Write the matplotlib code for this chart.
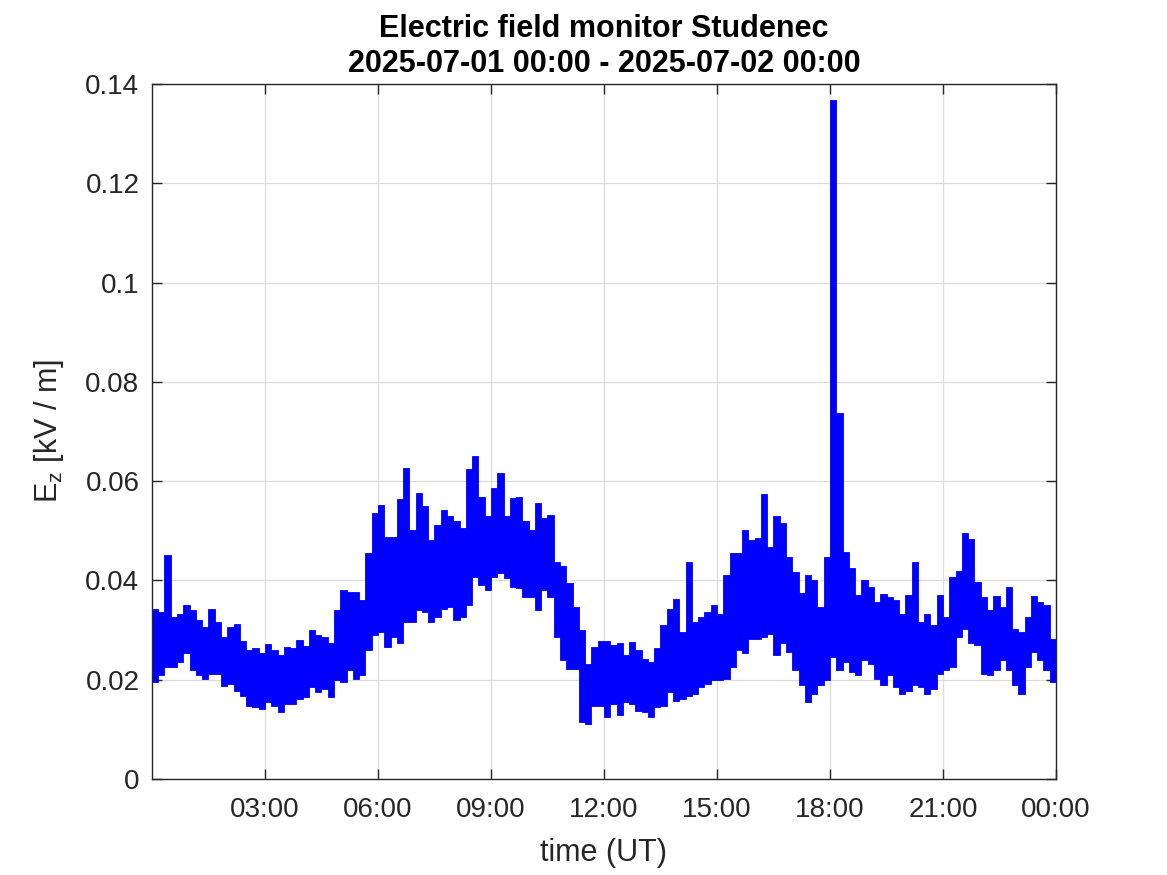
import numpy as np
import matplotlib
matplotlib.use("Agg")
import matplotlib.pyplot as plt

# ---- data, values in 1e-3 kV/m, 10-minute bins ----
bin_minutes = 10
ez_high = [
    34.3, 33.7, 45.1, 32.7, 33.3, 35.0, 34.0, 32.0, 30.6, 34.2, 31.7, 28.6,
    30.6, 31.3, 27.9, 25.9, 26.3, 25.3, 27.1, 25.9, 24.9, 26.6, 26.3, 28.1,
    26.7, 30.0, 29.0, 28.6, 27.3, 34.0, 38.1, 37.7, 37.7, 36.0, 45.5, 53.5,
    55.2, 48.8, 48.8, 56.4, 62.6, 50.2, 57.6, 54.9, 48.1, 51.2, 54.2, 52.9,
    51.9, 50.5, 62.4, 65.1, 56.9, 52.9, 58.6, 61.6, 52.9, 56.6, 56.9, 51.9,
    50.2, 55.6, 52.6, 53.2, 43.8, 42.9, 39.4, 34.7, 30.0, 23.2, 26.6, 27.9,
    27.9, 26.9, 27.3, 24.9, 27.6, 25.9, 24.2, 23.6, 26.3, 31.0, 34.2, 36.2,
    29.6, 43.7, 31.7, 32.7, 33.7, 35.0, 33.3, 41.0, 45.5, 45.5, 50.2, 48.1,
    48.5, 57.4, 46.8, 52.9, 51.5, 44.8, 41.8, 37.4, 41.0, 40.1, 34.7, 44.8,
    136.8, 73.7, 45.8, 42.5, 37.1, 40.1, 38.7, 35.6, 37.3, 36.7, 36.0, 33.3,
    37.0, 43.7, 31.7, 33.3, 31.0, 37.1, 32.7, 40.7, 42.0, 49.5, 48.3, 39.7,
    36.7, 34.0, 36.8, 34.7, 38.7, 30.3, 29.6, 32.7, 36.8, 35.6, 35.0, 28.3,
]
ez_low = [
    19.5, 20.9, 22.6, 22.6, 23.6, 25.3, 21.9, 20.9, 20.2, 21.2, 21.2, 18.7,
    19.2, 17.8, 16.8, 14.8, 14.5, 14.1, 15.5, 14.8, 13.5, 15.2, 15.2, 16.2,
    16.5, 18.5, 17.5, 18.2, 16.5, 19.9, 19.5, 21.9, 20.2, 20.9, 25.9, 29.0,
    29.6, 26.6, 28.6, 27.3, 31.6, 31.6, 34.0, 33.7, 31.6, 32.7, 34.3, 34.7,
    32.0, 32.7, 35.0, 40.7, 39.1, 38.0, 40.7, 41.4, 40.4, 38.7, 38.4, 36.7,
    36.7, 34.0, 38.0, 36.7, 28.6, 23.9, 22.2, 22.2, 11.4, 11.1, 14.8, 14.8,
    12.5, 15.2, 12.8, 15.5, 15.2, 13.8, 13.5, 12.5, 14.5, 14.8, 17.5, 15.8,
    16.2, 16.8, 17.2, 18.5, 19.2, 19.9, 19.9, 20.2, 22.6, 25.9, 25.3, 28.3,
    28.3, 28.6, 29.3, 24.9, 27.3, 25.6, 21.9, 18.9, 15.5, 17.2, 18.9, 19.9,
    24.6, 21.9, 23.6, 21.5, 20.9, 23.9, 23.2, 20.2, 18.9, 20.9, 18.5, 17.2,
    17.8, 18.9, 18.5, 17.1, 18.2, 21.2, 21.9, 22.6, 28.6, 30.3, 27.3, 27.0,
    21.2, 20.9, 21.9, 23.9, 21.9, 18.9, 17.2, 22.6, 25.6, 23.9, 21.9, 19.5,
]
xtick_hours = [3, 6, 9, 12, 15, 18, 21, 24]
xtick_labels = ["03:00", "06:00", "09:00", "12:00", "15:00", "18:00", "21:00", "00:00"]
ytick_values = [0, 0.02, 0.04, 0.06, 0.08, 0.1, 0.12, 0.14]
ytick_labels = ["0", "0.02", "0.04", "0.06", "0.08", "0.1", "0.12", "0.14"]
title_text = "Electric field monitor Studenec\n2025-07-01 00:00 - 2025-07-02 00:00"

hi = np.array(ez_high) / 1000.0
lo = np.array(ez_low) / 1000.0
dt = bin_minutes / 60.0
t0 = np.arange(len(hi)) * dt

plt.rcParams["font.family"] = ["Liberation Sans", "DejaVu Sans"]
plt.rcParams["mathtext.default"] = "regular"

fig = plt.figure(figsize=(11.67, 8.75), dpi=100)
ax = fig.add_axes([0.1302, 0.1097, 0.7747, 0.7943])

# each 10-minute bin: the blue trace sweeps from its minimum to its maximum
ax.bar(t0, hi - lo, bottom=lo, width=dt, align="edge", color=(0, 0, 1),
       linewidth=0.6, edgecolor=(0, 0, 1), zorder=3)

ax.set_xlim(0, 24)
ax.set_ylim(0, 0.14)
ax.set_xticks(xtick_hours)
ax.set_xticklabels(xtick_labels)
ax.set_yticks(ytick_values)
ax.set_yticklabels(ytick_labels)

axc = "#262626"
for s in ax.spines.values():
    s.set_color(axc)
    s.set_linewidth(1.0)
    s.set_zorder(4)
ax.tick_params(direction="in", length=7, width=1.0, color=axc, labelcolor=axc,
               labelsize=20, top=True, right=True)
ax.tick_params(axis="x", pad=13)
ax.tick_params(axis="y", pad=9)
ax.grid(True, color="#dcdcdc", lw=0.9)
ax.set_axisbelow(True)

ax.set_xlabel("time (UT)", fontsize=22, color=axc, labelpad=11)
ax.set_ylabel("$E_z$ [kV / m]", fontsize=22, color=axc, labelpad=14)
ax.set_title(title_text, fontsize=22, fontweight="bold", color="black",
             pad=9, linespacing=1.2)

fig.savefig("out.png", dpi=100, facecolor="white")
